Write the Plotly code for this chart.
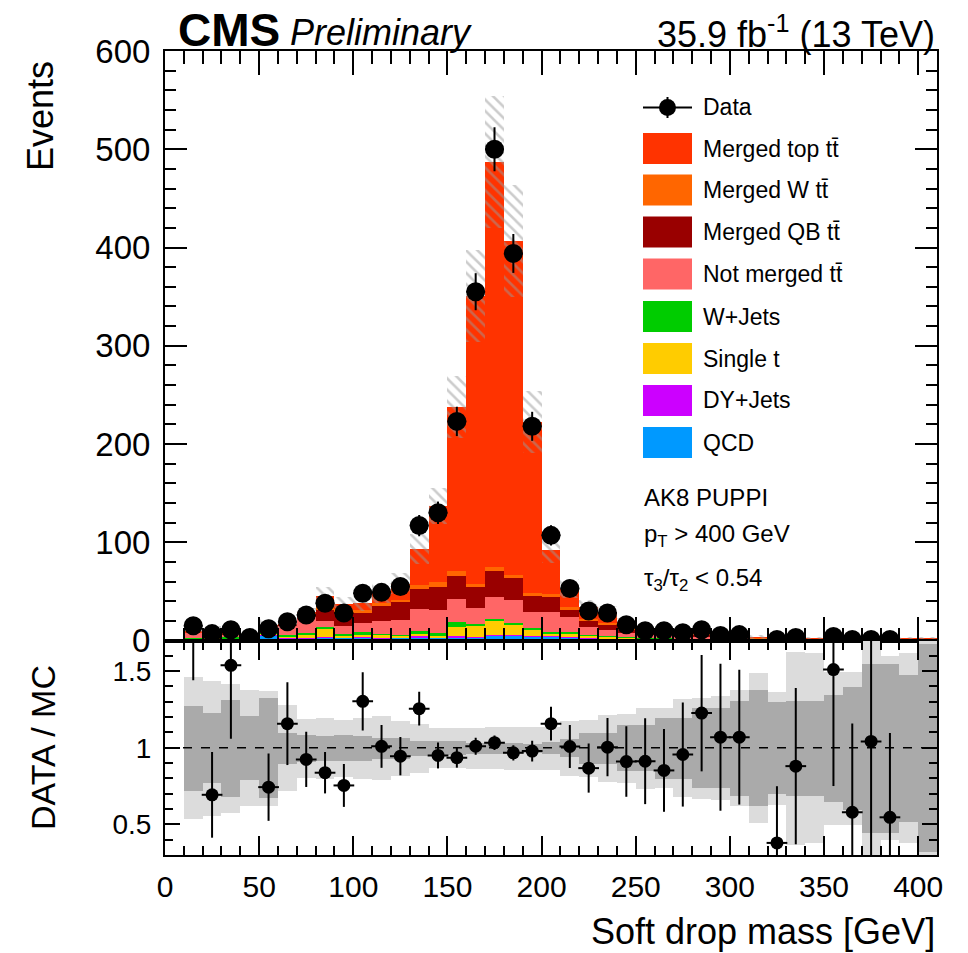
import numpy as np
import plotly.graph_objects as go

# ---------------- data ----------------
bin_centers = [15, 25, 35, 45, 55, 65, 75, 85, 95, 105, 115, 125, 135, 145, 155, 165, 175, 185, 195, 205,
               215, 225, 235, 245, 255, 265, 275, 285, 295, 305, 315, 325, 335, 345, 355, 365, 375, 385, 395, 405]

data_counts = [15, 7, 11, 3, 12, 19, 26, 38, 28, 48, 49, 55, 117, 130, 223, 355, 500, 394, 218, 107,
               53, 30, 28, 16, 10, 10, 8, 11, 5, 6, 0, 1, 3, 0, 4, 1, 1, 1, 0, 0]

qcd = [1.5, 2, 1.5, 1.5, 5.5, 2.5, 2, 3, 2.8, 3.5, 2.5, 3, 3.4, 3, 3.2, 2.9, 4.6, 4.6, 3.9, 4,
       3.5, 2.5, 2, 2, 1.5, 1.6, 1.2, 1.3, 0.8, 0.9, 0.6, 0.5, 0.6, 0.5, 0.5, 0.4, 0.2, 0.4, 0.5, 0.8]
dy_jets = [0.2, 0.2, 0.2, 0.2, 0.3, 0.2, 0.2, 0.5, 0.4, 0.4, 0.3, 0.3, 0.7, 0.5, 1.4, 1.0, 1.0, 1.0, 0.7, 0.5,
           0.4, 0.3, 0.3, 0.3, 0.2, 0.2, 0.2, 0.2, 0.1, 0.1, 0.1, 0.05, 0.1, 0.05, 0.05, 0.05, 0.02, 0.05, 0.05, 0.05]
single_t = [0.8, 1.0, 0.8, 0.8, 1.0, 1.7, 4.2, 8.0, 1.7, 2.7, 3.0, 1.5, 3.4, 1.5, 9.4, 11.5, 14.6, 10.2, 6.1, 3.0,
            3.0, 2.0, 1.5, 1.0, 0.7, 0.6, 0.5, 0.5, 0.3, 0.3, 0.2, 0.15, 0.2, 0.15, 0.15, 0.1, 0.06, 0.1, 0.15, 0.1]
w_jets = [0.3, 0.5, 0.8, 0.3, 0.5, 1.5, 1.4, 2.5, 1.7, 1.7, 1.0, 0.8, 1.7, 2.3, 5.2, 1.4, 1.3, 1.7, 1.7, 1.5,
          1.5, 1.0, 0.7, 0.5, 0.4, 0.4, 0.3, 0.3, 0.2, 0.2, 0.1, 0.1, 0.1, 0.1, 0.1, 0.05, 0.03, 0.05, 0.1, 0.05]
not_merged_tt = [4.9, 5.5, 3.2, 2.7, 7.4, 9.6, 17.0, 5.5, 8.5, 9.2, 13.0, 15.3, 23.0, 23.7, 23.0, 16.4, 23.1, 23.7, 16.9, 20.0,
                 15.5, 8.0, 6.0, 4.0, 2.5, 2.6, 1.9, 2.0, 1.0, 1.2, 0.8, 0.6, 0.7, 0.5, 0.6, 0.35, 0.2, 0.4, 0.5, 0.4]
merged_qb_tt = [0.5, 0.5, 0.2, 0.2, 0.5, 0.5, 2.0, 12.0, 13.5, 10.1, 15.0, 18.6, 20.3, 23.8, 23.8, 21.4, 26.1, 22.0, 17.0, 16.0,
                7.5, 7.0, 6.0, 3.5, 2.2, 2.1, 1.5, 1.6, 0.8, 1.0, 0.6, 0.45, 0.6, 0.45, 0.45, 0.3, 0.18, 0.3, 0.45, 0.2]
merged_w_tt = [0.3, 0.3, 0.1, 0.1, 0.2, 0.2, 0.7, 5.0, 3.0, 3.0, 3.0, 2.0, 4.0, 4.4, 5.0, 3.4, 3.7, 3.4, 1.7, 2.0,
               2.5, 1.5, 1.5, 1.0, 0.6, 0.6, 0.4, 0.5, 0.2, 0.3, 0.2, 0.1, 0.2, 0.1, 0.1, 0.05, 0.04, 0.1, 0.1, 0.1]
merged_top_tt = [0.5, 0.5, 0.2, 0.2, 0.3, 0.3, 0.5, 8.7, 5.9, 7.4, 10.8, 16.4, 36.6, 77.6, 167.0, 293.0, 412.6, 340.4, 174.4, 45.0,
                 18.8, 12.3, 10.6, 6.2, 3.6, 3.6, 2.4, 2.6, 1.3, 1.6, 0.9, 0.65, 0.9, 0.65, 0.7, 0.4, 0.23, 0.4, 0.65, 0.3]

# relative MC uncertainties (outer = total, inner = darker band)
unc_total = [0.465, 0.44, 0.42, 0.38, 0.375, 0.28, 0.193, 0.20, 0.185, 0.20, 0.21, 0.178, 0.16, 0.132, 0.132, 0.133, 0.137, 0.14, 0.14, 0.14,
             0.18, 0.185, 0.22, 0.225, 0.265, 0.26, 0.32, 0.33, 0.34, 0.38, 0.49, 0.37, 0.63, 0.62, 0.50, 0.50, 0.72, 0.60, 0.62, 0.75]
unc_inner = [0.277, 0.228, 0.315, 0.21, 0.326, 0.10, 0.088, 0.08, 0.085, 0.08, 0.07, 0.07, 0.05, 0.045, 0.045, 0.035, 0.04, 0.035, 0.03, 0.04,
             0.06, 0.10, 0.10, 0.15, 0.15, 0.20, 0.20, 0.26, 0.26, 0.31, 0.38, 0.30, 0.31, 0.31, 0.35, 0.40, 0.55, 0.55, 0.48, 0.68]

ratio_vals = [1.88, 0.693, 1.538, None, 0.743, 1.157, 0.924, 0.837, 0.754, 1.303, 1.009, 0.945, 1.255, 0.95, 0.935, 1.01, 1.033, 0.967, 0.978, 1.157,
              1.008, 0.867, 1.004, 0.91, 0.912, 0.852, 0.956, 1.226, 1.069, 1.069, None, 0.379, 0.88, None, 1.51, 0.579, 1.041, 0.546, None, None]
ratio_errs = [0.44, 0.28, 0.48, 0, 0.22, 0.27, 0.18, 0.135, 0.14, 0.19, 0.14, 0.125, 0.11, 0.085, 0.065, 0.055, 0.047, 0.05, 0.068, 0.11,
              0.14, 0.16, 0.19, 0.23, 0.28, 0.27, 0.34, 0.38, 0.48, 0.44, 0, 0.37, 0.51, 0, 0.76, 0.58, 1.04, 0.55, 0, 0]

components = [
    ("QCD", qcd, "#0099ff"),
    ("DY+Jets", dy_jets, "#cc00ff"),
    ("Single t", single_t, "#ffcc00"),
    ("W+Jets", w_jets, "#00cc00"),
    ("Not merged tt", not_merged_tt, "#ff6666"),
    ("Merged QB tt", merged_qb_tt, "#990000"),
    ("Merged W tt", merged_w_tt, "#ff6600"),
    ("Merged top tt", merged_top_tt, "#ff3300"),
]

# ---------------- figure ----------------
FONT = "Liberation Sans, Arial, Helvetica, sans-serif"
W, H = 968, 953
ML, MR, MT, MB = 165, 31, 51, 98
PW, PH = W - ML - MR, H - MT - MB
split = (855 - 640.5) / PH


def px2x(px):
    return (px - ML) / PW


def px2y(py):
    return (H - MB - py) / PH


fig = go.Figure()

x = np.array(bin_centers, dtype=float)
cum = np.zeros(len(x))
for name, vals, color in components:
    v = np.array(vals, dtype=float)
    fig.add_trace(go.Bar(x=x, y=v, base=cum.copy(), width=10, name=name,
                         marker=dict(color=color, line=dict(width=0)),
                         xaxis="x", yaxis="y", showlegend=False, hoverinfo="skip"))
    cum = cum + v
total = cum

ut = np.array(unc_total)
ui = np.array(unc_inner)

# hatched MC uncertainty
fig.add_trace(go.Bar(x=x, y=2 * total * ut, base=total * (1 - ut), width=10,
                     marker=dict(color="rgba(0,0,0,0)", line=dict(width=0),
                                 pattern=dict(shape="\\", fgcolor="#999999", bgcolor="rgba(0,0,0,0)",
                                              size=8, solidity=0.32)),
                     xaxis="x", yaxis="y", showlegend=False, hoverinfo="skip"))

# data points
dc = np.array(data_counts, dtype=float)
dmask = [v if v > 0 else None for v in data_counts]
fig.add_trace(go.Scatter(x=x, y=dmask, mode="markers",
                         marker=dict(size=19, color="black"),
                         error_y=dict(type="data", array=np.sqrt(dc), thickness=2, width=0, color="black"),
                         error_x=dict(type="constant", value=5, thickness=2, width=0, color="black"),
                         xaxis="x", yaxis="y", showlegend=False))

# ratio bands
fig.add_trace(go.Bar(x=x, y=2 * ut, base=1 - ut, width=10, marker=dict(color="#dcdcdc", line=dict(width=0)),
                     xaxis="x2", yaxis="y2", showlegend=False, hoverinfo="skip"))
fig.add_trace(go.Bar(x=x, y=2 * ui, base=1 - ui, width=10, marker=dict(color="#aaaaaa", line=dict(width=0)),
                     xaxis="x2", yaxis="y2", showlegend=False, hoverinfo="skip"))
fig.add_trace(go.Scatter(x=[0, 410], y=[1, 1], mode="lines", line=dict(color="black", dash="dash", width=1.5),
                         xaxis="x2", yaxis="y2", showlegend=False, hoverinfo="skip"))
fig.add_trace(go.Scatter(x=x, y=ratio_vals, mode="markers",
                         marker=dict(size=13, color="black"),
                         error_y=dict(type="data", array=ratio_errs, thickness=2, width=0, color="black"),
                         error_x=dict(type="constant", value=5.5, thickness=2, width=0, color="black"),
                         xaxis="x2", yaxis="y2", showlegend=False))

common = dict(showline=True, linewidth=2, linecolor="black", mirror="allticks", ticks="inside",
              tickwidth=1.5, tickcolor="black", showgrid=False, zeroline=False)

fig.update_layout(
    width=W, height=H,
    margin=dict(l=ML, r=MR, t=MT, b=MB),
    plot_bgcolor="white", paper_bgcolor="white",
    barmode="overlay", bargap=0, showlegend=False,
    font=dict(family=FONT, color="black"),
    xaxis=dict(domain=[0, 1], anchor="y", range=[0, 410], tick0=0, dtick=50, ticklen=24,
               showticklabels=False,
               minor=dict(tick0=0, dtick=10, ticklen=13, ticks="inside", tickcolor="black", tickwidth=1.5),
               **common),
    yaxis=dict(domain=[split, 1], anchor="x", range=[0, 600], tick0=0, dtick=100, ticklen=22,
               tickfont=dict(size=33, family=FONT), ticklabelstandoff=6,
               minor=dict(tick0=0, dtick=20, ticklen=11, ticks="inside", tickcolor="black", tickwidth=1.5),
               **common),
    xaxis2=dict(domain=[0, 1], anchor="y2", range=[0, 410], tick0=0, dtick=50, ticklen=19,
                tickfont=dict(size=30, family=FONT), ticklabelstandoff=4,
                minor=dict(tick0=0, dtick=10, ticklen=9, ticks="inside", tickcolor="black", tickwidth=1.5),
                **common),
    yaxis2=dict(domain=[0, split], anchor="x2", range=[0.3, 1.7], tick0=0, dtick=0.5, ticklen=15,
                tickfont=dict(size=28, family=FONT), ticklabelstandoff=6,
                minor=dict(tick0=0, dtick=0.1, ticklen=8, ticks="inside", tickcolor="black", tickwidth=1.5),
                **common),
)

ann = []


def add_text(txt, px, py, size, xanchor="left", yanchor="middle", angle=0, bold=False, italic=False):
    t = txt
    if bold:
        t = "<b>" + t + "</b>"
    if italic:
        t = "<i>" + t + "</i>"
    ann.append(dict(text=t, x=px2x(px), y=px2y(py), xref="paper", yref="paper",
                    xanchor=xanchor, yanchor=yanchor, textangle=angle, showarrow=False,
                    font=dict(size=size, family=FONT, color="black")))


add_text("CMS", 176, 30, 46, bold=True)
add_text("Preliminary", 288, 32, 36, italic=True)
add_text("35.9 fb<sup>-1</sup> (13 TeV)", 937, 32, 36, xanchor="right")
add_text("Events", 40, 116, 36, xanchor="center", angle=-90)
add_text("DATA / MC", 43, 748, 34, xanchor="center", angle=-90)
add_text("Soft drop mass [GeV]", 937, 932, 36, xanchor="right")
add_text("AK8 PUPPI", 642, 497, 24)
add_text("p<sub>T</sub> > 400 GeV", 642, 535, 24)
add_text("τ<sub>3</sub>/τ<sub>2</sub> < 0.54", 642, 580, 24)

# legend (drawn manually)
shapes = []
leg_names = ["Merged top tt\u0304", "Merged W tt\u0304", "Merged QB tt\u0304", "Not merged tt\u0304",
             "W+Jets", "Single t", "DY+Jets", "QCD"]
leg_colors = ["#ff3300", "#ff6600", "#990000", "#ff6666", "#00cc00", "#ffcc00", "#cc00ff", "#0099ff"]
leg_y = [148.5, 190, 232, 274, 316.5, 358.5, 400.5, 442.5]
for nm, col, yy in zip(leg_names, leg_colors, leg_y):
    shapes.append(dict(type="rect", xref="paper", yref="paper", x0=px2x(643), x1=px2x(692),
                       y0=px2y(yy + 15.5), y1=px2y(yy - 15.5), fillcolor=col, line=dict(width=0)))
    add_text(nm, 701, yy, 23)
# data legend entry
shapes.append(dict(type="line", xref="paper", yref="paper", x0=px2x(643), x1=px2x(692),
                   y0=px2y(107.5), y1=px2y(107.5), line=dict(color="black", width=2)))
shapes.append(dict(type="line", xref="paper", yref="paper", x0=px2x(667.5), x1=px2x(667.5),
                   y0=px2y(97), y1=px2y(118), line=dict(color="black", width=2)))
shapes.append(dict(type="circle", xref="paper", yref="paper", xsizemode="pixel", ysizemode="pixel",
                   xanchor=px2x(667.5), yanchor=px2y(107.5), x0=-8.5, x1=8.5, y0=-8.5, y1=8.5,
                   fillcolor="black", line=dict(width=0)))
add_text("Data", 701, 107, 23)

fig.update_layout(annotations=ann, shapes=shapes)

fig.write_html("out.html")
